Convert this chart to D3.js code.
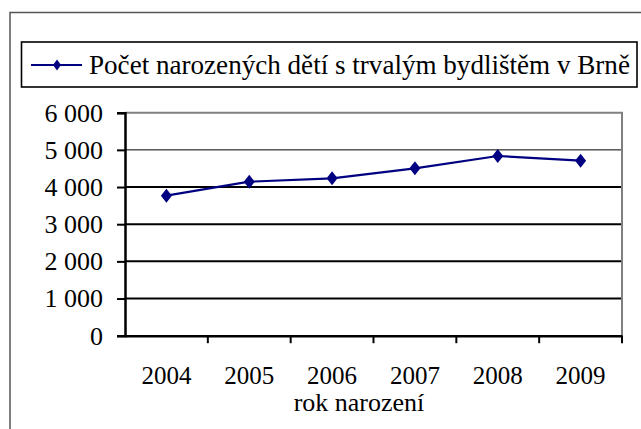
<!DOCTYPE html>
<html>
<head>
<meta charset="utf-8">
<script src="https://cdn.jsdelivr.net/npm/d3@7"></script>
<style>
  body { margin: 0; background: #fff; }
  svg text { font-family: "Liberation Serif", "Times New Roman", serif; fill: #000; }
</style>
</head>
<body>
<svg width="641" height="429"></svg>
<script>
// data
const years = ['2004', '2005', '2006', '2007', '2008', '2009'];
const births = [3767, 4143, 4235, 4504, 4835, 4709];
const yTicks = [0, 1000, 2000, 3000, 4000, 5000, 6000];
const seriesName = 'Počet narozených dětí s trvalým bydlištěm v Brně';
const xTitle = 'rok narození';

const svg = d3.select('svg');
const plotL = 125, plotR = 622, plotT = 112.7, plotB = 335.7;

const x = d3.scaleBand().domain(years).range([plotL, plotR]);
const y = d3.scaleLinear().domain([0, 6000]).range([plotB, plotT]);
const fmt = d3.formatLocale({decimal: ',', thousands: ' ', grouping: [3], currency: ['', '']}).format(',');

// squeeze a text horizontally to a given width (the original font is narrow)
function fitWidth(sel, w) {
    const natural = sel.node().getComputedTextLength();
    const k = Math.min(1, w / natural);
    const tx = +sel.attr('x');
    const ty = +sel.attr('y');
    sel.attr('transform', `translate(${tx},${ty}) scale(${k},1)`)
    .attr('x', 0).attr('y', 0);
}

// outer chart frame (only left/top visible)
svg.append('rect')
.attr('x', 10).attr('y', 12.5)
.attr('width', 700).attr('height', 500)
.attr('fill', 'none')
.attr('stroke', '#555')
.attr('stroke-width', 1.5);

// legend
const legend = svg.append('g');
legend.append('rect')
.attr('x', 21.5).attr('y', 42)
.attr('width', 615.5).attr('height', 45)
.attr('fill', '#fff')
.attr('stroke', '#000')
.attr('stroke-width', 1.6);
legend.append('line')
.attr('x1', 31).attr('x2', 82).attr('y1', 65).attr('y2', 65)
.attr('stroke', '#000080').attr('stroke-width', 2);
legend.append('path')
.attr('d', 'M57,59.5L61,65L57,70.5L53,65Z')
.attr('fill', '#000080');
const legendText = legend.append('text')
.attr('x', 89).attr('y', 74)
.attr('font-size', 28)
.text(seriesName);
fitWidth(legendText, 541);

// gridlines
svg.append('g')
.selectAll('line')
.data(yTicks.filter(v => v > 0 && v < 6000))
.enter().append('line')
.attr('x1', plotL).attr('x2', plotR)
.attr('y1', d => y(d)).attr('y2', d => y(d))
.attr('stroke', '#000')
.attr('stroke-width', d => d === 5000 ? 1 : 2);

// plot area border (top & right, gray)
svg.append('path')
.attr('d', `M${plotL},${y(6000)}H${plotR}V${plotB}`)
.attr('fill', 'none')
.attr('stroke', '#808080')
.attr('stroke-width', 2);

// y axis
const yAxis = svg.append('g')
.attr('transform', `translate(${plotL},0)`)
.call(d3.axisLeft(y).tickValues(yTicks).tickFormat(fmt).tickSize(8).tickPadding(14));
yAxis.select('.domain').attr('stroke', '#000').attr('stroke-width', 2.5);
yAxis.selectAll('.tick line').attr('stroke', '#000').attr('stroke-width', 2);
yAxis.selectAll('.tick text')
.attr('font-size', 26)
.attr('font-family', '"Liberation Serif", serif')
.attr('fill', '#000');

// x axis
const xAxis = svg.append('g')
.attr('transform', `translate(0,${plotB})`)
.call(d3.axisBottom(x).tickSize(0).tickPadding(31));
xAxis.select('.domain').attr('stroke', '#000').attr('stroke-width', 2.5);
xAxis.selectAll('.tick text')
.attr('font-size', 25)
.attr('font-family', '"Liberation Serif", serif')
.attr('fill', '#000');

// x tick marks at category boundaries
svg.append('g')
.selectAll('line')
.data(years.slice(1).map(v => x(v)).concat([plotR]))
.enter().append('line')
.attr('x1', d => d).attr('x2', d => d)
.attr('y1', plotB).attr('y2', plotB + 7.5)
.attr('stroke', '#000')
.attr('stroke-width', 2);

// x title
const titleText = svg.append('text')
.attr('x', 359).attr('y', 411)
.attr('text-anchor', 'middle')
.attr('font-size', 26)
.text(xTitle);
fitWidth(titleText, 135);

// series
const pts = years.map((yr, i) => [x(yr) + x.bandwidth() / 2, y(births[i])]);
svg.append('path')
.attr('d', d3.line()(pts))
.attr('fill', 'none')
.attr('stroke', '#000080')
.attr('stroke-width', 2.2);

svg.append('g')
.selectAll('path')
.data(pts)
.enter().append('path')
.attr('d', d => `M${d[0]},${d[1] - 7}L${d[0] + 5.5},${d[1]}L${d[0]},${d[1] + 7}L${d[0] - 5.5},${d[1]}Z`)
.attr('fill', '#000080');
</script>
</body>
</html>
